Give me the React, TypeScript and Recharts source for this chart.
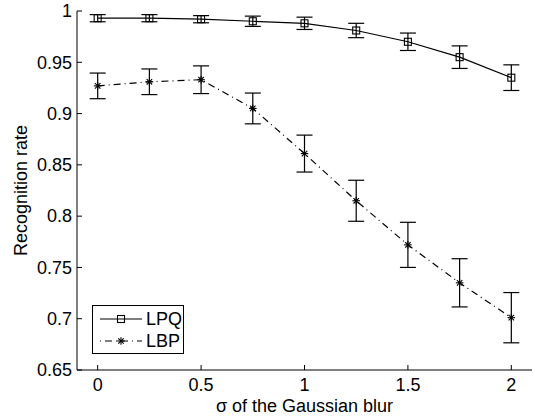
import React from 'react';
import { LineChart, Line, XAxis, YAxis, ErrorBar } from 'recharts';

const sigma = [0, 0.25, 0.5, 0.75, 1, 1.25, 1.5, 1.75, 2];
const lpq = [0.993, 0.993, 0.992, 0.99, 0.988, 0.981, 0.97, 0.955, 0.935];
const lpqErr = [0.0035, 0.0035, 0.0035, 0.005, 0.006, 0.007, 0.0085, 0.011, 0.0125];
const lbp = [0.927, 0.931, 0.933, 0.905, 0.861, 0.815, 0.772, 0.735, 0.701];
const lbpErr = [0.0125, 0.0125, 0.0135, 0.015, 0.018, 0.02, 0.022, 0.0235, 0.0245];

const xTicks = [0, 0.5, 1, 1.5, 2];
const yTicks = [0.65, 0.7, 0.75, 0.8, 0.85, 0.9, 0.95, 1];

const data = sigma.map((s, i) => ({
  sigma: s,
  lpq: lpq[i],
  lpqErr: lpqErr[i],
  lbp: lbp[i],
  lbpErr: lbpErr[i],
}));

const FONT = '"Liberation Sans", Arial, Helvetica, sans-serif';
const FS = 18;

// @ts-ignore
const YTick = ({ x, y, payload }) => (
  <g>
    <line x1={x + 5} x2={x + 10} y1={y} y2={y} stroke="#000" />
    <text x={x} y={y} dy="0.35em" textAnchor="end" fontSize={FS} fontFamily={FONT} fill="#000">
      {payload.value}
    </text>
  </g>
);

// @ts-ignore
const XTick = ({ x, y, payload }) => (
  <g>
    <line x1={x} x2={x} y1={y - 8} y2={y - 13} stroke="#000" />
    <text x={x} y={y} dy="0.71em" textAnchor="middle" fontSize={FS} fontFamily={FONT} fill="#000">
      {payload.value}
    </text>
  </g>
);

const Square = (props: any) => {
  const { cx, cy, index } = props;
  return <rect key={`sq-${index}`} x={cx - 3.5} y={cy - 3.5} width={7} height={7} fill="none" stroke="#000" strokeWidth={1.1} />;
};

const Star = (props: any) => {
  const { cx, cy, index } = props;
  const r = 3.8;
  const d = r * 0.72;
  return (
    <g key={`st-${index}`} stroke="#000" strokeWidth={1.1}>
      <line x1={cx} x2={cx} y1={cy - r} y2={cy + r} />
      <line x1={cx - r} x2={cx + r} y1={cy} y2={cy} />
      <line x1={cx - d} x2={cx + d} y1={cy - d} y2={cy + d} />
      <line x1={cx - d} x2={cx + d} y1={cy + d} y2={cy - d} />
    </g>
  );
};

const Legend = () => (
  <svg width={535} height={416} style={{ position: 'absolute', left: 0, top: 0, pointerEvents: 'none' }}>
    <rect x={92.5} y={305.5} width={91} height={48} fill="#fff" stroke="#000" />
    <line x1={100} x2={142} y1={319} y2={319} stroke="#000" strokeWidth={1.2} />
    {Square({ cx: 121, cy: 319, index: 'l' })}
    <text x={146} y={319} dy="0.35em" fontSize={FS} fontFamily={FONT}>LPQ</text>
    <line x1={100} x2={142} y1={341} y2={341} stroke="#000" strokeWidth={1.2} strokeDasharray="1 4 7 4" />
    {Star({ cx: 121, cy: 341, index: 'l' })}
    <text x={146} y={341} dy="0.35em" fontSize={FS} fontFamily={FONT}>LBP</text>
  </svg>
);

export default function App() {
  return (
    <div style={{ position: 'absolute', left: 0, top: 0, width: 535, height: 416, background: '#fff' }}>
      <LineChart width={535} height={416} data={data} margin={{ top: 11, right: 3, bottom: 0, left: 0 }}>
        <XAxis
          dataKey="sigma"
          type="number"
          domain={[-0.1, 2.1]}
          ticks={xTicks}
          tickSize={0}
          tickMargin={8}
          tickLine={false}
          tick={XTick}
          height={46}
          axisLine={{ stroke: '#000' }}
          label={{
            content: (p: any) => {
              const vb = p.viewBox;
              return (
                <text x={vb.x + vb.width / 2} y={412} textAnchor="middle" fontSize={FS} fontFamily={FONT} fill="#000">
                  σ of the Gaussian blur
                </text>
              );
            },
          }}
        />
        <YAxis
          type="number"
          domain={[0.65, 1]}
          ticks={yTicks}
          tickSize={0}
          tickMargin={5}
          tickLine={false}
          tick={YTick}
          width={77}
          axisLine={{ stroke: '#000' }}
          label={{
            content: (p: any) => {
              const vb = p.viewBox;
              const cy = vb.y + vb.height / 2;
              return (
                <text x={21} y={cy} transform={`rotate(-90 21 ${cy})`} dy="0.35em" textAnchor="middle" fontSize={FS} fontFamily={FONT} fill="#000">
                  Recognition rate
                </text>
              );
            },
          }}
        />
        <Line dataKey="lpq" stroke="#000" strokeWidth={1.2} dot={Square} activeDot={false} isAnimationActive={false}>
          <ErrorBar dataKey="lpqErr" direction="y" width={8} stroke="#000" strokeWidth={1.2} />
        </Line>
        <Line dataKey="lbp" stroke="#000" strokeWidth={1.2} strokeDasharray="7 4 1 4" dot={Star} activeDot={false} isAnimationActive={false}>
          <ErrorBar dataKey="lbpErr" direction="y" width={8} stroke="#000" strokeWidth={1.2} />
        </Line>
      </LineChart>
      <Legend />
    </div>
  );
}
